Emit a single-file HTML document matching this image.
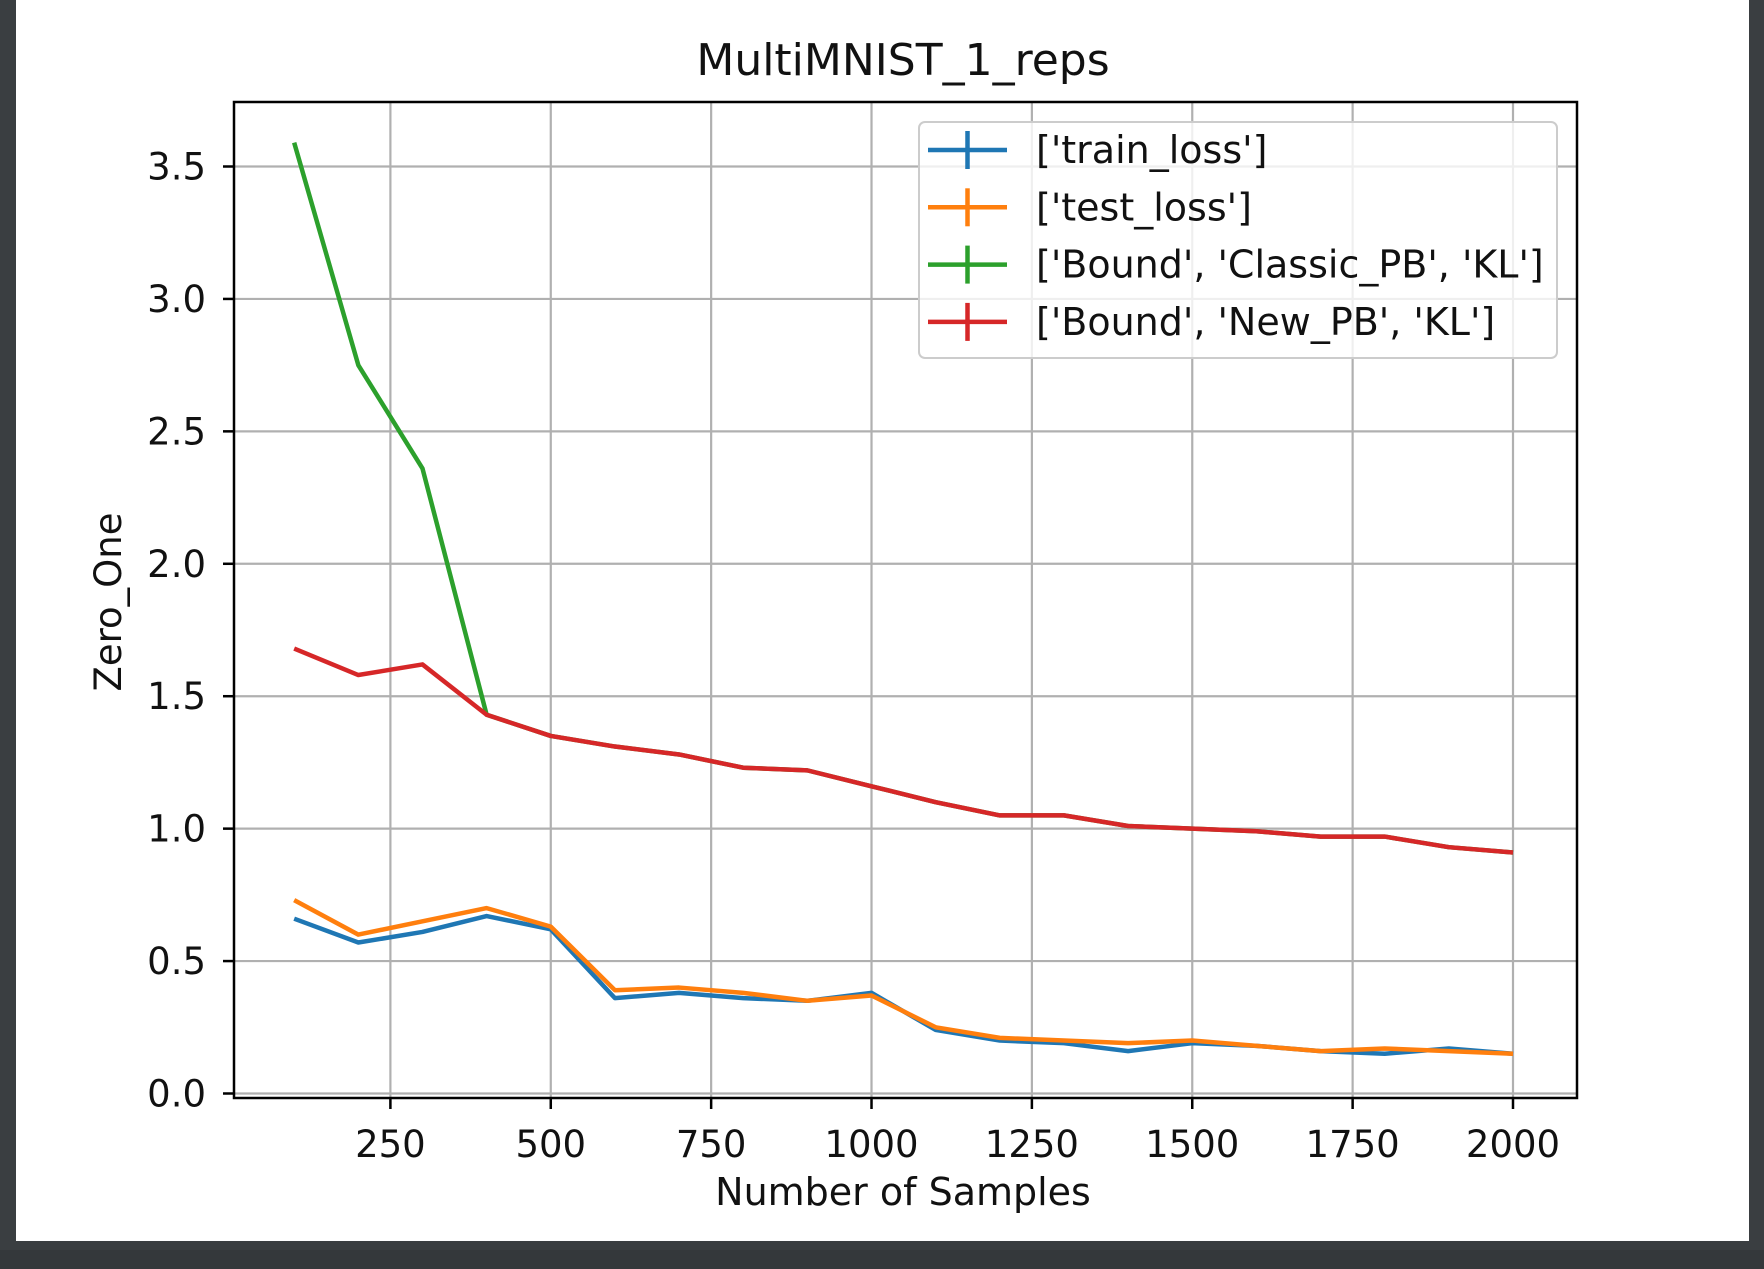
<!DOCTYPE html>
<html><head><meta charset="utf-8"><style>
html,body{margin:0;padding:0;background:#3a3e41;}
svg{display:block;font-family:"DejaVu Sans","Liberation Sans",sans-serif;}
</style></head><body>
<svg width="1764" height="1269" xmlns="http://www.w3.org/2000/svg">
<rect x="0" y="0" width="1764" height="1269" fill="#3a3e41"/>
<rect x="16" y="0" width="1733" height="1241" fill="#ffffff"/>
<rect x="0" y="1250" width="1764" height="19" fill="#34383b"/>
<text x="903" y="75" font-size="44" text-anchor="middle" fill="#111">MultiMNIST_1_reps</text>
<g id="grid"></g>
<g id="series"></g>
<rect x="234" y="102" width="1343" height="996" fill="none" stroke="#000" stroke-width="2.5"/>
<g id="ticks"></g>
<text x="903" y="1205" font-size="38" text-anchor="middle" fill="#111">Number of Samples</text>
<text transform="translate(121,602) rotate(-90)" font-size="37" text-anchor="middle" fill="#111">Zero_One</text>
<g id="legend">
<rect x="919" y="122" width="638" height="236" rx="6" fill="#fff" fill-opacity="0.8" stroke="#ccc" stroke-width="2"/>
</g>
</svg>
<script>
const xs=[100,200,300,400,500,600,700,800,900,1000,1100,1200,1300,1400,1500,1600,1700,1800,1900,2000];
const trainLoss=[0.66,0.57,0.61,0.67,0.62,0.36,0.38,0.36,0.35,0.38,0.24,0.20,0.19,0.16,0.19,0.18,0.16,0.15,0.17,0.15];
const testLoss=[0.73,0.60,0.65,0.70,0.63,0.39,0.40,0.38,0.35,0.37,0.25,0.21,0.20,0.19,0.20,0.18,0.16,0.17,0.16,0.15];
const classicPB=[3.59,2.75,2.36,1.43,1.35,1.31,1.28,1.23,1.22,1.16,1.10,1.05,1.05,1.01,1.00,0.99,0.97,0.97,0.93,0.91];
const newPB=[1.68,1.58,1.62,1.43,1.35,1.31,1.28,1.23,1.22,1.16,1.10,1.05,1.05,1.01,1.00,0.99,0.97,0.97,0.93,0.91];
const xTicks=[250,500,750,1000,1250,1500,1750,2000];
const yTicks=[0.0,0.5,1.0,1.5,2.0,2.5,3.0,3.5];
const seriesNames=["['train_loss']","['test_loss']","['Bound', 'Classic_PB', 'KL']","['Bound', 'New_PB', 'KL']"];
const colors=["#1f77b4","#ff7f0e","#2ca02c","#d62728"];
const NS="http://www.w3.org/2000/svg";
const X=v=>390.4+(v-250)*(1513-390.4)/1750;
const Y=v=>1093.5-v*(1093.5-166.5)/3.5;
function mk(t,a,p){const e=document.createElementNS(NS,t);for(const k in a)e.setAttribute(k,a[k]);p.appendChild(e);return e;}
const grid=document.getElementById('grid'),ticks=document.getElementById('ticks'),ser=document.getElementById('series'),leg=document.getElementById('legend');
xTicks.forEach(t=>{
 const g=mk('line',{x1:X(t),x2:X(t),y1:102,y2:1098,stroke:'#b0b0b0','stroke-width':2.2},grid);
 
 
 const k=mk('line',{x1:X(t),x2:X(t),y1:1098,y2:1109,stroke:'#000','stroke-width':2.5},ticks);
 
 
 const l=mk('text',{x:X(t),y:1157,'font-size':37,'text-anchor':'middle',fill:'#111'},ticks);
 l.textContent=t;
 
 
});
yTicks.forEach(t=>{
 const g=mk('line',{x1:234,x2:1577,y1:Y(t),y2:Y(t),stroke:'#b0b0b0','stroke-width':2.2},grid);
 
 
 const k=mk('line',{x1:223,x2:234,y1:Y(t),y2:Y(t),stroke:'#000','stroke-width':2.5},ticks);
 
 
 const l=mk('text',{x:206,y:Y(t)+13,'font-size':37,'text-anchor':'end',fill:'#111'},ticks);
 l.textContent=t.toFixed(1);
 
 
});
[trainLoss,testLoss,classicPB,newPB].forEach((d,i)=>{
 const p=mk('polyline',{points:d.map((v,j)=>X(xs[j])+','+Y(v)).join(' '),fill:'none',stroke:colors[i],'stroke-width':4.5,'stroke-linejoin':'round'},ser);
 
 
});
ser.insertBefore(ser.children[2],ser.children[0]);
seriesNames.forEach((n,i)=>{
 const y=150+i*57.3;
 const e=mk('g',{},leg);
 
 
 mk('line',{x1:928,x2:1007,y1:y,y2:y,stroke:colors[i],'stroke-width':4.5},e);
 mk('line',{x1:967.5,x2:967.5,y1:y-19,y2:y+19,stroke:colors[i],'stroke-width':4.5},e);
 const t=mk('text',{x:1036,y:y+13,'font-size':38,fill:'#111'},e);
 t.textContent=n;
});
</script>
</body></html>
